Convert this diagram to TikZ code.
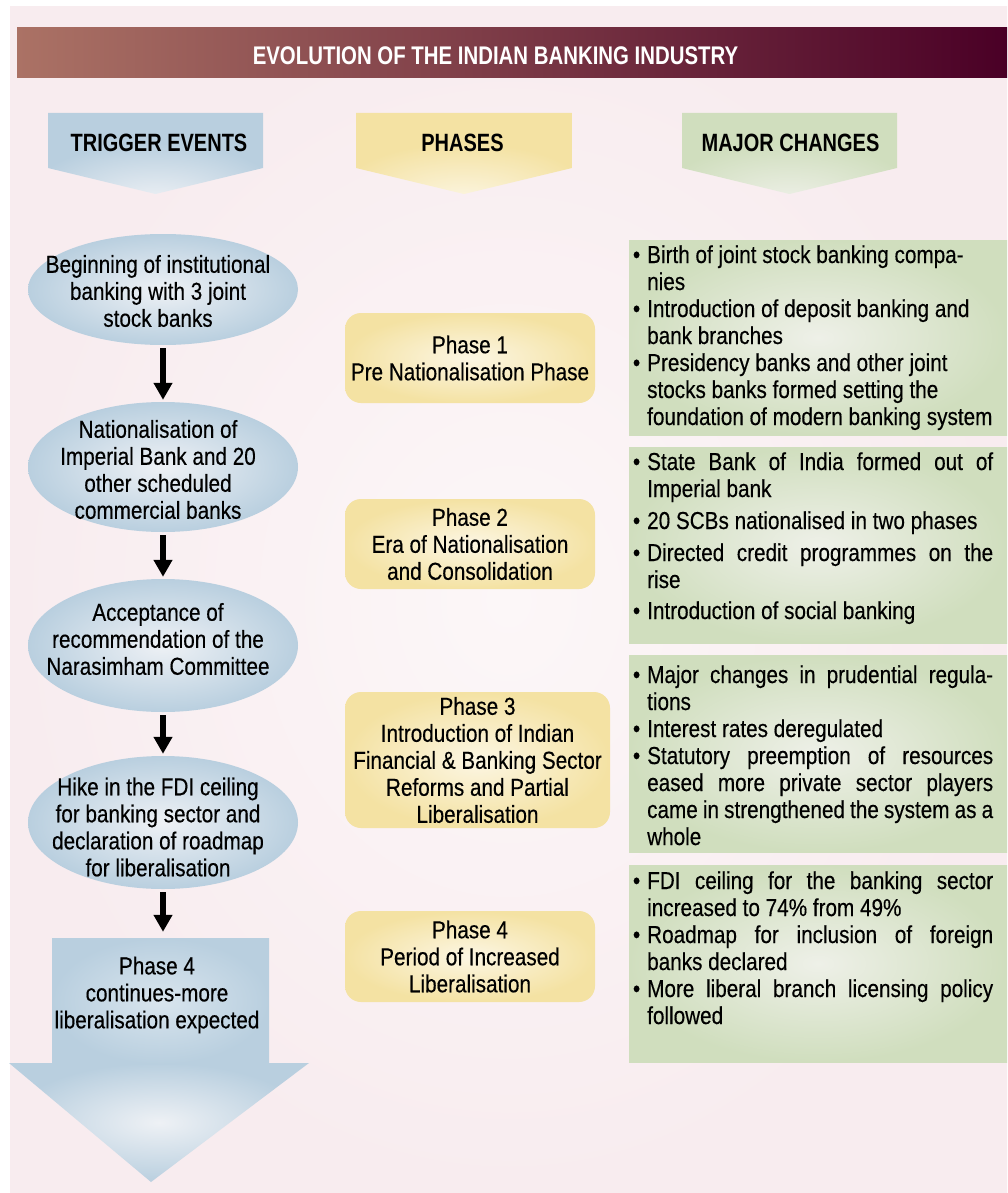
\documentclass[tikz,border=0pt]{standalone}
\usepackage{fontspec}
\setmainfont{Liberation Sans}[FakeStretch=0.845, FakeBold=0.35]
\newfontfamily\headfont{Liberation Sans}[FakeStretch=0.8]
\usetikzlibrary{arrows.meta,shapes.geometric}

% palette
\definecolor{bgpink}{HTML}{F8ECEF}
\definecolor{bglight}{HTML}{FCF7F8}
\definecolor{titleL}{HTML}{AB7265}
\definecolor{titleM}{HTML}{7E0231}
\definecolor{titleR}{HTML}{4A0026}
\definecolor{blueE}{HTML}{B9CFDF}
\definecolor{blueC}{HTML}{EEF1F5}
\definecolor{yelE}{HTML}{F4E2A3}
\definecolor{yelC}{HTML}{FCF6E3}
\definecolor{grnE}{HTML}{D0DEBE}
\definecolor{grnC}{HTML}{EEF0E8}

% header arrows glow near their lower point
\pgfdeclareradialshading{hdrblue}{\pgfpoint{0bp}{-30bp}}{color(0bp)=(blueC); color(28bp)=(blueE); color(100bp)=(blueE)}
\pgfdeclareradialshading{hdryel}{\pgfpoint{0bp}{-30bp}}{color(0bp)=(yelC); color(28bp)=(yelE); color(100bp)=(yelE)}
\pgfdeclareradialshading{hdrgrn}{\pgfpoint{0bp}{-30bp}}{color(0bp)=(grnC); color(28bp)=(grnE); color(100bp)=(grnE)}

\newcommand\bodysize{\fontsize{24.5}{27}\selectfont}
\newcommand\bul{\leavevmode\llap{•\hspace{7pt}}}
\newcommand\jline[1]{\makebox[346pt][s]{#1}}

\begin{document}
\begin{tikzpicture}[x=1pt,y=-1pt,
  titletext/.style={font=\headfont\bfseries\fontsize{25.5}{30}\selectfont, text=white, inner sep=0},
  hdrtext/.style={font=\headfont\bfseries\fontsize{25}{30}\selectfont, text=black, inner sep=0},
  evt/.style={ellipse, minimum width=270pt, inner sep=0, shade, inner color=blueC, outer color=blueE},
  evtext/.style={font=\bodysize, align=center, inner sep=0},
  contbox/.style={rectangle, minimum width=217pt, minimum height=126pt, inner sep=0, shade,
    inner color=blueE!55!white, outer color=blueE},
  phasebox/.style={rectangle, rounded corners=16pt, minimum width=250pt, minimum height=90pt,
    inner sep=0, shade, inner color=yelC, outer color=yelE, align=center, font=\bodysize},
  chgbox/.style={rectangle, minimum width=378pt, inner sep=0, shade, inner color=grnC, outer color=grnE},
  chgtext/.style={anchor=base west, inner sep=0, font=\bodysize},
  flow/.style={line width=5.5pt, -{Triangle[length=17pt,width=18pt]}, shorten <=3pt, shorten >=2pt}
]
\useasboundingbox (0,0) rectangle (1007,1193);
\fill[white] (0,0) rectangle (1007,1193);
\shade[inner color=bglight, outer color=bgpink] (10,7) rectangle (1007,1193);

% title bar
\shade[left color=titleL, middle color=titleM, right color=titleR] (17,28) rectangle (1007,78);
\node[titletext] (title) at (495.5,55.5) {EVOLUTION OF THE INDIAN BANKING INDUSTRY};

% column headers
\shade[shading=hdrblue] (48,113) -- (263,113) -- (263,168) -- (155.5,194) -- (48,168) -- cycle;
\shade[shading=hdryel] (356,113) -- (572,113) -- (572,168) -- (464,194) -- (356,168) -- cycle;
\shade[shading=hdrgrn] (682,113) -- (897,113) -- (897,168) -- (789.5,194) -- (682,168) -- cycle;
\node[hdrtext] (h1) at (159,142.5) {TRIGGER EVENTS};
\node[hdrtext] (h2) at (462.5,142.5) {PHASES};
\node[hdrtext] (h3) at (790.5,142.5) {MAJOR CHANGES};

% trigger events
\node[evt, minimum height=111pt] (e1) at (163,289.5) {};
\node[evt, minimum height=130pt] (e2) at (163,467) {};
\node[evt, minimum height=133pt] (e3) at (163,645.5) {};
\node[evt, minimum height=133pt] (e4) at (163,822.5) {};
\node[evtext] (e1t) at (158,291) {Beginning of institutional\\banking with 3 joint\\stock banks};
\node[evtext] (e2t) at (158,469.5) {Nationalisation of\\Imperial Bank and 20\\other scheduled\\commercial banks};
\node[evtext] (e3t) at (158,639) {Acceptance of\\recommendation of the\\Narasimham Committee};
\node[evtext] (e4t) at (158,827) {Hike in the FDI ceiling\\for banking sector and\\declaration of roadmap\\for liberalisation};

% continuing phase with the big downward arrow
\shade[inner color=blueC, outer color=blueE] (9,1063) -- (309,1063) -- (151,1182) -- cycle;
\node[contbox] (cont) at (160.5,1001) {};
\node[evtext] (contt) at (157,995) {Phase 4\\continues-more\\liberalisation expected};

\draw[flow] (e1.south) -- (e2.north);
\draw[flow] (e2.south) -- (e3.north);
\draw[flow] (e3.south) -- (e4.north);
\draw[flow, shorten >=6pt] (e4.south) -- (e4.south |- cont.north);

% phases
\node[phasebox] (p1) at (470,358) {Phase 1\\Pre Nationalisation Phase};
\node[phasebox] (p2) at (470,544) {Phase 2\\Era of Nationalisation\\and Consolidation};
\node[phasebox, minimum width=265pt, minimum height=136pt] (p3) at (477.5,760)
  {Phase 3\\Introduction of Indian\\Financial \& Banking Sector\\Reforms and Partial\\Liberalisation};
\node[phasebox, minimum height=91pt] (p4) at (470,956.5) {Phase 4\\Period of Increased\\Liberalisation};

% major changes
\node[chgbox, minimum height=195pt] (g1) at (818,337.5) {};
\node[chgbox, minimum height=196pt] (g2) at (818,545) {};
\node[chgbox, minimum height=197pt] (g3) at (818,753.5) {};
\node[chgbox, minimum height=197pt] (g4) at (818,963.5) {};

\node[chgtext] (g1t) at (647,263) {\begin{minipage}[t]{360pt}\setlength{\parindent}{0pt}%
\bul Birth of joint stock banking compa-\\
nies\\
\bul Introduction of deposit banking and\\
bank branches\\
\bul Presidency banks and other joint\\
stocks banks formed setting the\\
foundation of modern banking system
\end{minipage}};

\node[chgtext] (g2t) at (647,470) {\begin{minipage}[t]{360pt}\setlength{\parindent}{0pt}%
\bul\jline{State Bank of India formed out of}\\
Imperial bank\\[5pt]
\bul 20 SCBs nationalised in two phases\\[5pt]
\bul\jline{Directed credit programmes on the}\\
rise\\[4pt]
\bul Introduction of social banking
\end{minipage}};

\node[chgtext] (g3t) at (647,683) {\begin{minipage}[t]{360pt}\setlength{\parindent}{0pt}%
\bul\jline{Major changes in prudential regula-}\\
tions\\
\bul Interest rates deregulated\\
\bul\jline{Statutory preemption of resources}\\
\jline{eased more private sector players}\\
\jline{came in strengthened the system as a}\\
whole
\end{minipage}};

\node[chgtext] (g4t) at (647,889) {\begin{minipage}[t]{360pt}\setlength{\parindent}{0pt}%
\bul\jline{FDI ceiling for the banking sector}\\
increased to 74\% from 49\%\\
\bul\jline{Roadmap for inclusion of foreign}\\
banks declared\\
\bul\jline{More liberal branch licensing policy}\\
followed
\end{minipage}};
\end{tikzpicture}
\end{document}
